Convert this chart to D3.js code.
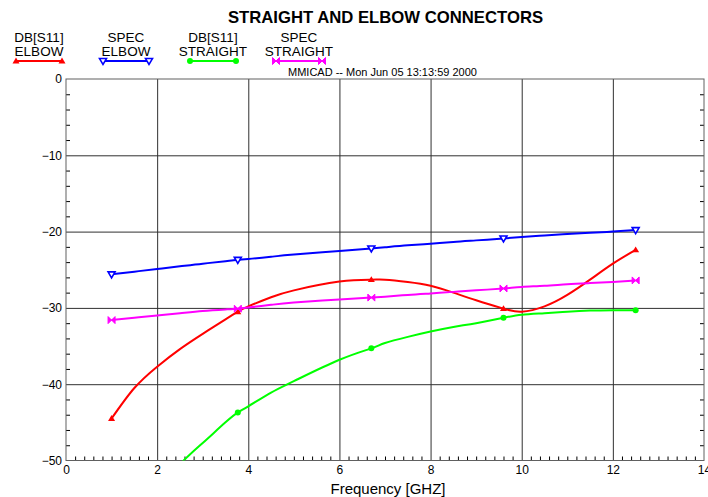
<!doctype html>
<html lang="en">
<head>
    <meta charset="utf-8">
    <title>Straight and elbow connectors</title>
    <style>
        body { margin: 0; background: #fff; }
        svg { display: block; font-family: "Liberation Sans", Arial, sans-serif; }
    </style>
</head>
<body>
    <div id="chart"></div>

    <script src="https://cdnjs.cloudflare.com/ajax/libs/d3/7.8.5/d3.min.js"></script>
    <script>
        // frequency points (GHz)
        const freqs = [1, 1.5, 2, 2.5, 3, 3.5, 3.77, 4, 4.5, 5, 6, 6.7, 7, 7.5, 8, 8.5, 9, 9.6, 10, 10.5, 11, 11.5, 12, 12.5];
        const markerFreqs = [1, 3.77, 6.7, 9.6, 12.5];

        const dbElbow = [-44.5, -40.5, -37.7, -35.4, -33.4, -31.5, -30.5, -29.8, -28.6, -27.7, -26.55, -26.3, -26.3, -26.6, -27.1, -28.0, -29.0, -30.1, -30.5, -29.8, -28.3, -26.3, -24.2, -22.4];
        const specElbow = [-25.6, -25.25, -24.9, -24.55, -24.2, -23.9, -23.7, -23.6, -23.3, -23.0, -22.55, -22.2, -22.05, -21.8, -21.6, -21.35, -21.15, -20.9, -20.7, -20.5, -20.3, -20.15, -20.0, -19.8];
        const dbStraight = [null, null, -54.0, -50.5, -47.7, -45.0, -43.7, -42.9, -41.1, -39.6, -36.8, -35.3, -34.6, -33.8, -33.1, -32.5, -32.0, -31.3, -30.9, -30.7, -30.5, -30.35, -30.3, -30.3];
        const specStraight = [-31.6, -31.3, -31.0, -30.7, -30.4, -30.2, -30.1, -29.95, -29.6, -29.3, -28.9, -28.65, -28.55, -28.3, -28.1, -27.9, -27.7, -27.45, -27.25, -27.1, -26.9, -26.75, -26.6, -26.4];

        const seriesNames = [["DB[S11]", "ELBOW"], ["SPEC", "ELBOW"], ["DB[S11]", "STRAIGHT"], ["SPEC", "STRAIGHT"]];
        const seriesValues = [dbElbow, specElbow, dbStraight, specStraight];
        const seriesColors = ["#ff0000", "#0000ff", "#00ff00", "#ff00ff"];
        const seriesMarkers = ["triUp", "triDown", "circle", "bowtie"];

        const xMajor = [0, 2, 4, 6, 8, 10, 12, 14];
        const yMajor = [0, -10, -20, -30, -40, -50];

        const width = 708;
        const height = 497;
        const plotL = 66, plotR = 704, plotT = 79, plotB = 460.5;

        const x = d3.scaleLinear().domain([0, 14]).range([plotL, plotR]);
        const y = d3.scaleLinear().domain([-50, 0]).range([plotB, plotT]);

        const svg = d3.select("#chart").append("svg").attr("width", width).attr("height", height);

        // title + stamp
        svg.append("text").attr("x", 385.5).attr("y", 23).attr("text-anchor", "middle")
            .attr("font-size", 16.7).attr("font-weight", "bold").text("STRAIGHT AND ELBOW CONNECTORS");
        svg.append("text").attr("x", 288).attr("y", 76).attr("font-size", 11)
            .text("MMICAD -- Mon Jun 05 13:13:59 2000");

        // grid lines
        svg.append("g").attr("transform", `translate(0,${plotB})`)
            .call(d3.axisBottom(x).tickValues(xMajor.slice(1, -1)).tickSize(-(plotB - plotT)).tickFormat(""))
            .call(g => g.select(".domain").remove())
            .call(g => g.selectAll("line").attr("stroke", "#303030"));
        svg.append("g").attr("transform", `translate(${plotL},0)`)
            .call(d3.axisLeft(y).tickValues(yMajor.slice(1, -1)).tickSize(-(plotR - plotL)).tickFormat(""))
            .call(g => g.select(".domain").remove())
            .call(g => g.selectAll("line").attr("stroke", "#303030"));

        // minor ticks, pointing inwards
        const xMinor = d3.range(0, 70).map(i => i * 0.2).filter(v => Math.abs(v / 2 - Math.round(v / 2)) > 1e-6);
        const yMinor = d3.range(-50, 0, 2).filter(v => v % 10 !== 0);
        svg.append("g").attr("transform", `translate(0,${plotB})`)
            .call(d3.axisBottom(x).tickValues(xMinor).tickSize(-4).tickFormat(""))
            .call(g => g.select(".domain").remove());
        svg.append("g").attr("transform", `translate(${plotL},0)`)
            .call(d3.axisLeft(y).tickValues(yMinor).tickSize(-4).tickFormat(""))
            .call(g => g.select(".domain").remove());
        svg.append("g").attr("transform", `translate(${plotR},0)`)
            .call(d3.axisRight(y).tickValues(yMinor).tickSize(-4).tickFormat(""))
            .call(g => g.select(".domain").remove());

        // tick labels
        svg.append("g").attr("transform", `translate(0,${plotB})`)
            .call(d3.axisBottom(x).tickValues(xMajor).tickSize(0).tickPadding(5))
            .call(g => g.select(".domain").remove())
            .call(g => g.selectAll("text").attr("font-size", 12).attr("font-family", null).attr("fill", "#000"));
        svg.append("g").attr("transform", `translate(${plotL},0)`)
            .call(d3.axisLeft(y).tickValues(yMajor).tickSize(0).tickPadding(4))
            .call(g => g.select(".domain").remove())
            .call(g => g.selectAll("text").attr("font-size", 12).attr("font-family", null).attr("fill", "#000"));

        // frame
        svg.append("rect").attr("x", plotL).attr("y", plotT).attr("width", plotR - plotL).attr("height", plotB - plotT)
            .attr("fill", "none").attr("stroke", "#606060");

        svg.append("text").attr("x", 388).attr("y", 494).attr("text-anchor", "middle")
            .attr("font-size", 15).text("Frequency [GHZ]");

        // clip for curves
        svg.append("clipPath").attr("id", "plot").append("rect")
            .attr("x", plotL).attr("y", plotT).attr("width", plotR - plotL).attr("height", plotB - plotT);

        function marker(sel, kind, color) {
            const s = 3.5;
            if (kind === "circle") {
                sel.append("circle").attr("r", 3).attr("fill", color);
            } else if (kind === "triUp") {
                sel.append("path").attr("d", `M0,${-s}L${s},${s * 0.7}L${-s},${s * 0.7}Z`).attr("fill", color);
            } else if (kind === "triDown") {
                sel.append("path").attr("d", `M${-s},${-s * 0.7}L${s},${-s * 0.7}L0,${s}Z`)
                    .attr("fill", "#fff").attr("stroke", color).attr("stroke-width", 1.6);
            } else {
                sel.append("path").attr("d", `M${-s},${-s}L${s},${s}L${s},${-s}L${-s},${s}Z`).attr("fill", color)
                    .attr("stroke", color).attr("stroke-width", 1);
            }
        }

        const line = d3.line()
            .defined(d => d[1] !== null)
            .x(d => x(d[0]))
            .y(d => y(d[1]))
            .curve(d3.curveNatural);

        seriesValues.forEach((vals, i) => {
            const pts = freqs.map((f, j) => [f, vals[j]]);
            svg.append("path").datum(pts)
                .attr("clip-path", "url(#plot)")
                .attr("fill", "none").attr("stroke", seriesColors[i]).attr("stroke-width", 2)
                .attr("d", line);
            pts.filter(p => p[1] !== null && markerFreqs.includes(p[0]) && p[1] >= -50)
                .forEach(p => {
                    const g = svg.append("g").attr("transform", `translate(${x(p[0])},${y(p[1])})`);
                    marker(g, seriesMarkers[i], seriesColors[i]);
                });
        });

        // legend
        const legendX = [16, 103, 190, 276];
        seriesNames.forEach((name, i) => {
            const x0 = legendX[i], x1 = x0 + 46, cx = (x0 + x1) / 2;
            const g = svg.append("g");
            g.append("text").attr("x", cx).attr("y", 42).attr("text-anchor", "middle").attr("font-size", 13.5).text(name[0]);
            g.append("text").attr("x", cx).attr("y", 56).attr("text-anchor", "middle").attr("font-size", 13.5).text(name[1]);
            g.append("line").attr("x1", x0).attr("x2", x1).attr("y1", 61).attr("y2", 61)
                .attr("stroke", seriesColors[i]).attr("stroke-width", 2);
            [x0, x1].forEach(px => {
                marker(g.append("g").attr("transform", `translate(${px},61)`), seriesMarkers[i], seriesColors[i]);
            });
        });
    </script>
</body>
</html>
